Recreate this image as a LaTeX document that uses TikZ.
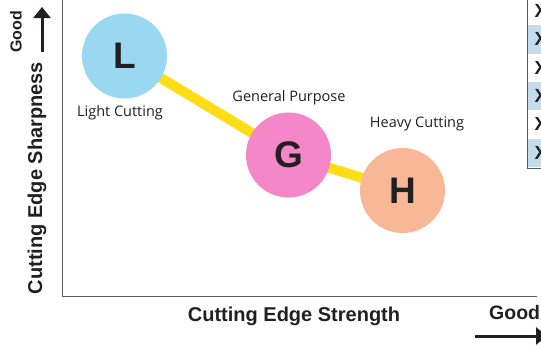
\documentclass[tikz,border=0pt]{standalone}
\usepackage{fontspec}
\setmainfont{Liberation Sans}
\newfontfamily\lblfont{Open Sans}
\usetikzlibrary{arrows.meta}
\definecolor{cL}{HTML}{9AD8F1}
\definecolor{cG}{HTML}{F487C8}
\definecolor{cH}{HTML}{F8B796}
\definecolor{cY}{HTML}{FEDD16}
\definecolor{ink}{HTML}{231F20}
\definecolor{rowblue}{HTML}{C5DCEC}
\definecolor{axisgray}{HTML}{5A5A5A}
\tikzset{
  bubble/.style={circle,minimum size=85pt,inner sep=0pt,text=ink,font=\fontsize{37}{37}\selectfont\bfseries},
  tag/.style={text=ink,font=\lblfont\fontsize{14.5}{14.5}\selectfont,inner sep=0pt},
  axlabel/.style={text=ink,font=\fontsize{20}{20}\selectfont\bfseries,inner sep=0pt},
  bigarrow/.style={line width=3pt,-{Triangle[width=17pt,length=11pt]}},
  conn/.style={cY,line width=10pt}
}
\begin{document}
\begin{tikzpicture}[x=1pt,y=-1pt]
\useasboundingbox (0,0) rectangle (541,346);
\clip (0,0) rectangle (541,346);
\fill[white] (0,0) rectangle (541,346);
% table at right
\foreach \t/\b/\c in {-4/25/white,25/53.5/rowblue,53.5/82/white,82/110/rowblue,110/138.5/white,138.5/167/rowblue}{
  \fill[\c] (527.5,\t) rectangle (560,\b);
  \node[font=\fontsize{19}{19}\selectfont\bfseries,text=ink,inner sep=0pt,anchor=west] at (534.5,{(\t+\b)/2}) {X};
}
\draw[axisgray,line width=0.9pt] (527.5,-4) -- (527.5,168) -- (560,168);
% axes
\coordinate (top) at (62.5,-2);
\coordinate (origin) at (62.5,296);
\coordinate (right) at (537,296);
\draw[axisgray,line width=1pt] (top) -- (origin) -- (right);
% circle positions
\coordinate (pL) at (124.5,56);
\coordinate (pG) at (288.5,155);
\coordinate (pH) at (402.5,190.5);
% connectors (under circles)
\draw[conn] (pL) -- (pG) -- (pH);
% circles
\node[bubble,fill=cL] (L) at (pL) {L};
\node[bubble,fill=cG] (G) at (pG) {G};
\node[bubble,fill=cH] (H) at (pH) {H};
% labels
\node[tag] (lL) at (120,113) {Light Cutting};
\node[tag] (lG) at (289,98) {General Purpose};
\node[tag] (lH) at (417,124) {Heavy Cutting};
% axis labels
\node[axlabel] (xl) at (294,316) {Cutting Edge Strength};
\node[axlabel,rotate=90] (yl) at (37,178) {Cutting Edge Sharpness};
\node[text=ink,font=\fontsize{16}{16}\selectfont\bfseries,rotate=90,inner sep=0pt] (gy) at (16,32) {Good};
\node[text=ink,font=\fontsize{19.5}{19.5}\selectfont\bfseries,inner sep=0pt,anchor=west] (gx) at (489,313) {Good};
\coordinate (ya) at (42,52);
\coordinate (yb) at (42,7);
\draw[bigarrow,ink] (ya) -- (yb);
\coordinate (xa) at (475,336);
\coordinate (xb) at (547,336);
\draw[bigarrow,ink] (xa) -- (xb);
\end{tikzpicture}
\end{document}
